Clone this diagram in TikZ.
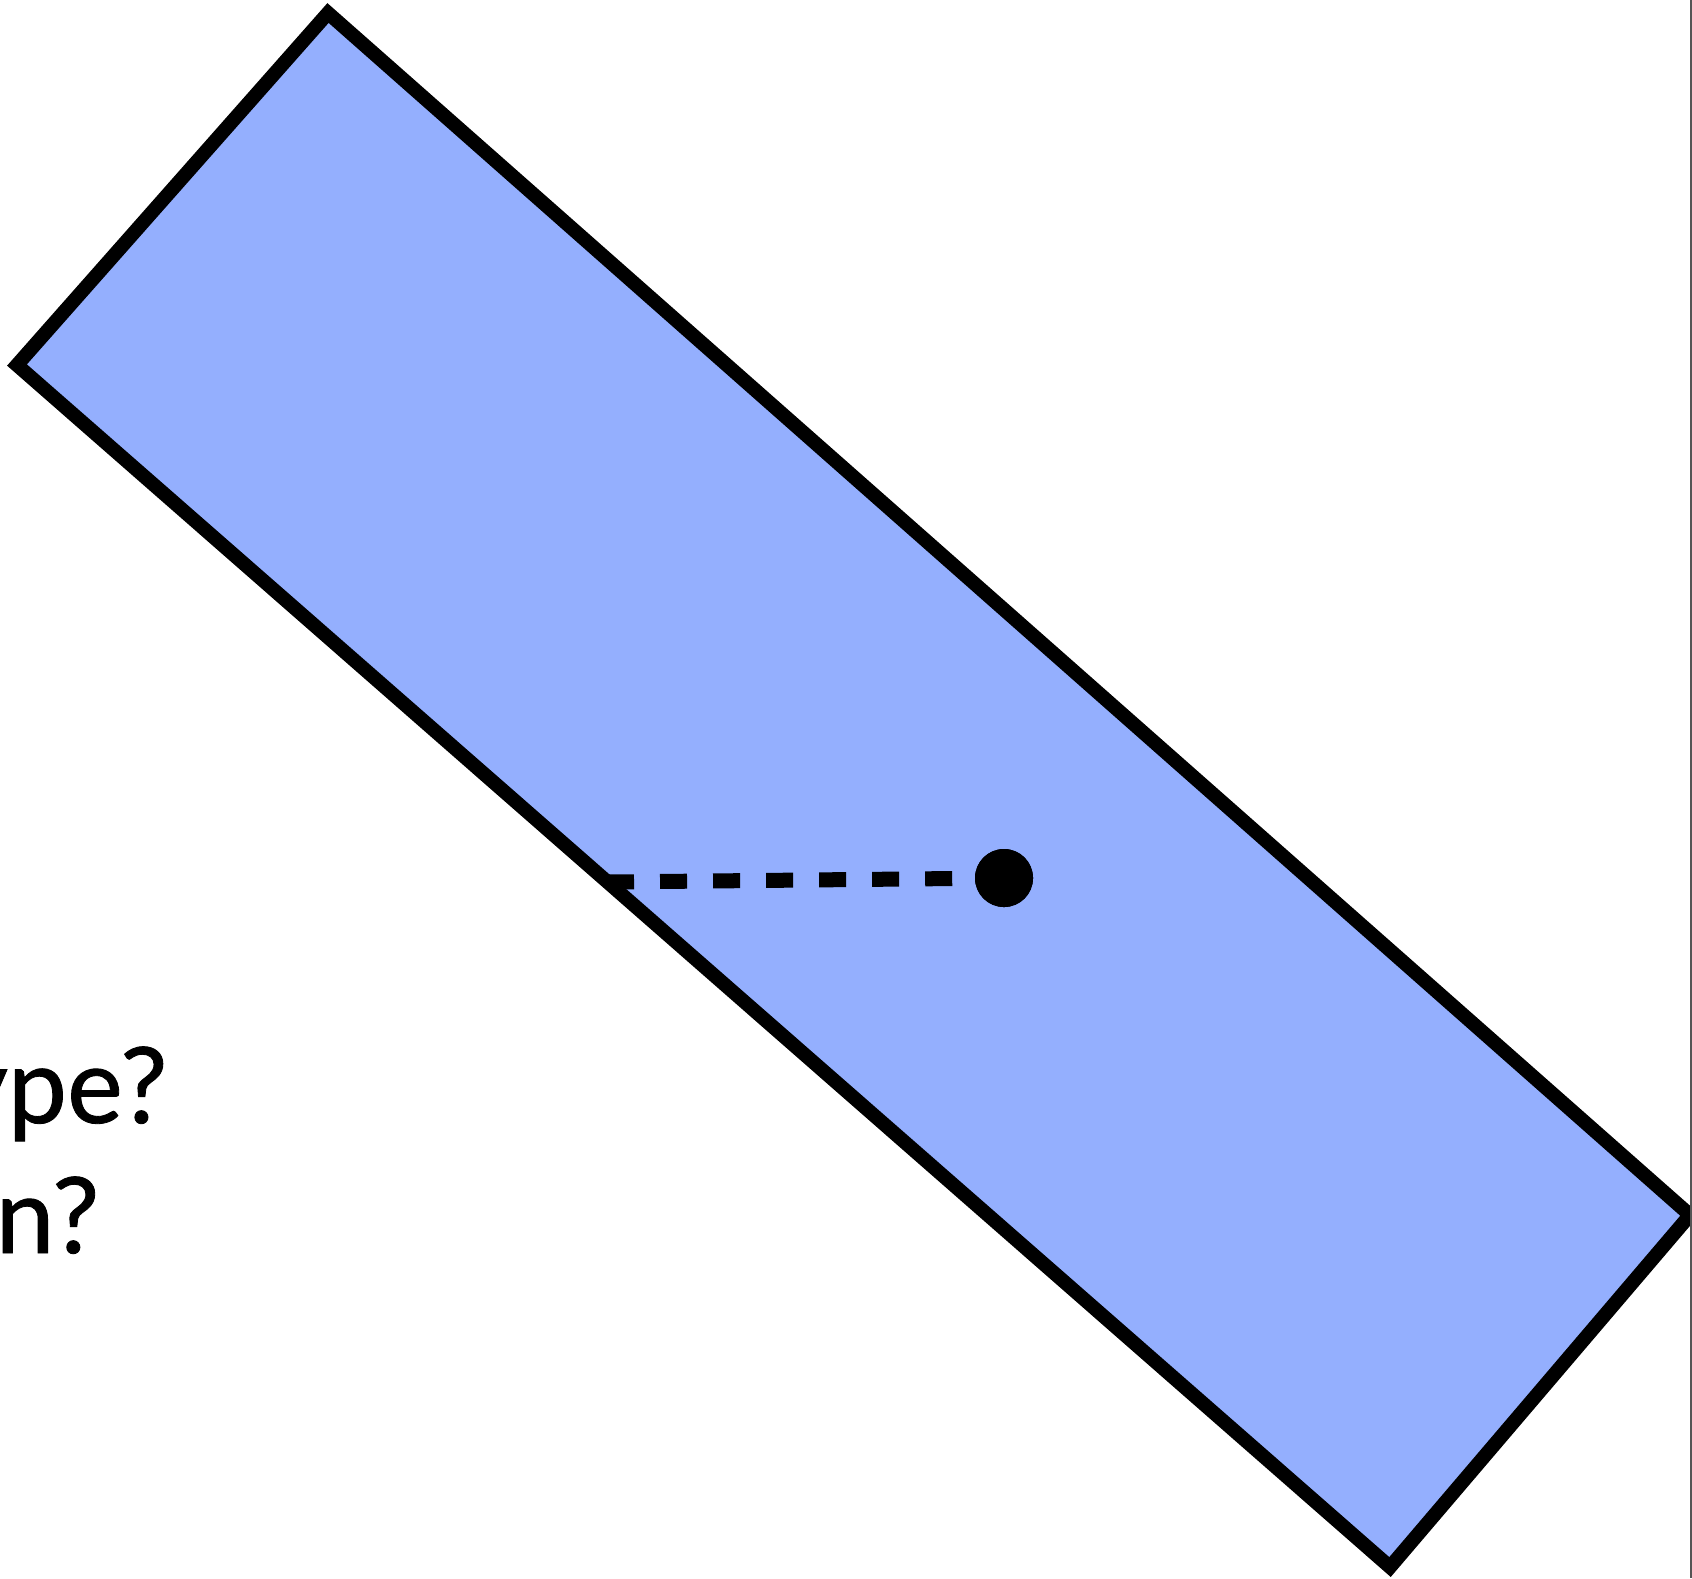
\documentclass[tikz,border=0pt]{standalone}
\usepackage{fontspec}
\setmainfont{Lato}
\usepackage{xcolor}
\definecolor{slabblue}{HTML}{94AFFE}
\definecolor{framegray}{HTML}{555555}
\usetikzlibrary{positioning}
\tikzset{
  slab/.style={draw=black, fill=slabblue, line width=0.14cm, line join=miter},
  dist/.style={draw=black, line width=0.15cm, dash pattern=on 0.27cm off 0.26cm},
  pivot/.style={circle, fill=black, inner sep=0pt, minimum size=0.58cm},
  qtext/.style={font=\fontsize{30}{36}\selectfont\addfontfeatures{FakeBold=0.8},
                inner sep=0pt, anchor=base east},
}
\begin{document}
\begin{tikzpicture}[x=0.01cm, y=-0.01cm]
  \useasboundingbox (0,0) rectangle (1692,1578);
  \clip (0,0) rectangle (1692,1578);
  \fill[white] (0,0) rectangle (1692,1578);

  % rotated slab
  \coordinate (top)    at (328,13);
  \coordinate (left)   at (17,365);
  \coordinate (bottom) at (1390,1567);
  \coordinate (right)  at (1690,1215);
  \draw[slab] (top) -- (right) -- (bottom) -- (left) -- cycle;

  % distance from the point to the slab edge
  \node[pivot] (pt) at (1004,878) {};
  \coordinate (foot) at (607,882);
  \draw[dist] (foot) -- (pt.center);
  \node[pivot] at (pt) {};

  % text cut off at the left
  \node[qtext] (q1) at (168,1123) {ype?};
  \node[qtext] (q2) at (100,1253) {on?};

  % frame line
  \draw[framegray, line width=0.02cm] (1690.5,0) -- (1690.5,1578);
\end{tikzpicture}
\end{document}
